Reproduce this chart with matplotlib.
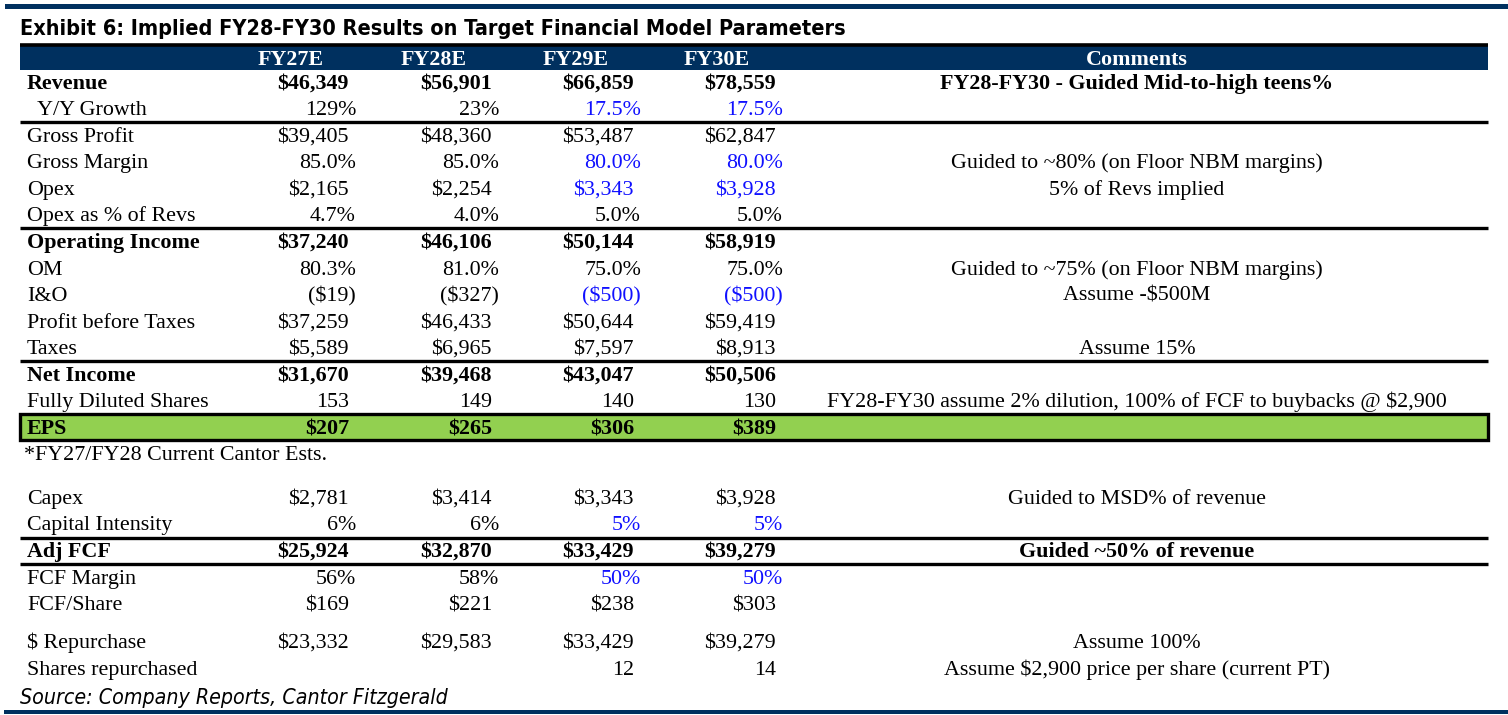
import matplotlib
matplotlib.use('Agg')
import matplotlib.pyplot as plt
from matplotlib import font_manager
from matplotlib.patches import Rectangle

# ---------------- data ----------------
title = 'Exhibit 6: Implied FY28-FY30 Results on Target Financial Model Parameters'
source = 'Source: Company Reports, Cantor Fitzgerald'
note = '*FY27/FY28 Current Cantor Ests.'
columns = ['FY27E', 'FY28E', 'FY29E', 'FY30E']

revenue = [46349, 56901, 66859, 78559]
yy_growth = [129, 23, 17.5, 17.5]
gross_profit = [39405, 48360, 53487, 62847]
gross_margin = [85.0, 85.0, 80.0, 80.0]
opex = [2165, 2254, 3343, 3928]
opex_pct = [4.7, 4.0, 5.0, 5.0]
op_income = [37240, 46106, 50144, 58919]
om = [80.3, 81.0, 75.0, 75.0]
i_and_o = [-19, -327, -500, -500]
pbt = [37259, 46433, 50644, 59419]
taxes = [5589, 6965, 7597, 8913]
net_income = [31670, 39468, 43047, 50506]
diluted_shares = [153, 149, 140, 130]
eps = [207, 265, 306, 389]
capex = [2781, 3414, 3343, 3928]
cap_intensity = [6, 6, 5, 5]
adj_fcf = [25924, 32870, 33429, 39279]
fcf_margin = [56, 58, 50, 50]
fcf_share = [169, 221, 238, 303]
repurchase = [23332, 29583, 33429, 39279]
shares_repurchased = [None, None, 12, 14]

# (label, values, format, bold, blue columns, comment, y)
rows = [
    ('Revenue', revenue, 'usd', True, [], 'FY28-FY30 - Guided Mid-to-high teens%', 82),
    ('  Y/Y Growth', yy_growth, 'pctg', False, [2, 3], '', 108),
    ('Gross Profit', gross_profit, 'usd', False, [], '', 135),
    ('Gross Margin', gross_margin, 'pct1', False, [2, 3], 'Guided to ~80% (on Floor NBM margins)', 161),
    ('Opex', opex, 'usd', False, [2, 3], '5% of Revs implied', 188),
    ('Opex as % of Revs', opex_pct, 'pct1', False, [], '', 214),
    ('Operating Income', op_income, 'usd', True, [], '', 241),
    ('OM', om, 'pct1', False, [], 'Guided to ~75% (on Floor NBM margins)', 268),
    ('I&O', i_and_o, 'usd', False, [2, 3], 'Assume -$500M', 294),
    ('Profit before Taxes', pbt, 'usd', False, [], '', 321),
    ('Taxes', taxes, 'usd', False, [], 'Assume 15%', 347),
    ('Net Income', net_income, 'usd', True, [], '', 374),
    ('Fully Diluted Shares', diluted_shares, 'num', False, [],
     'FY28-FY30 assume 2% dilution, 100% of FCF to buybacks @ $2,900', 400),
    ('EPS', eps, 'usd', True, [], '', 427),
    ('Capex', capex, 'usd', False, [], 'Guided to MSD% of revenue', 497),
    ('Capital Intensity', cap_intensity, 'pct0', False, [2, 3], '', 523),
    ('Adj FCF', adj_fcf, 'usd', True, [], 'Guided ~50% of revenue', 550),
    ('FCF Margin', fcf_margin, 'pct0', False, [2, 3], '', 577),
    ('FCF/Share', fcf_share, 'usd', False, [], '', 603),
    ('$ Repurchase', repurchase, 'usd', False, [], 'Assume 100%', 641),
    ('Shares repurchased', shares_repurchased, 'num', False, [],
     'Assume $2,900 price per share (current PT)', 668),
]

# ---------------- style ----------------
NAVY = '#00305f'
GREEN = '#92d050'
BLUE = '#1010ff'
names = {f.name for f in font_manager.fontManager.ttflist}
SERIF = 'Liberation Serif'
SANS = 'Liberation Sans Narrow' if 'Liberation Sans Narrow' in names else 'DejaVu Sans'
SANS_STRETCH = 'normal' if SANS == 'Liberation Sans Narrow' else 'condensed'
FS = 15.8
BASE = 7   # baseline offset below row centre (px)

col_right = [356, 499, 641, 783]   # right edge of % values
col_head = [291, 434, 576, 717]
comment_x = 1137
label_x = 27
left, right = 20, 1488


def fmt(v, kind):
    if v is None:
        return '', False
    if kind == 'usd':
        if v < 0:
            return '(${:,.0f})'.format(-v), False
        return '${:,.0f}'.format(v), True
    if kind == 'num':
        return '{:,.0f}'.format(v), True
    if kind == 'pct1':
        return '{:.1f}%'.format(v), False
    if kind == 'pct0':
        return '{:.0f}%'.format(v), False
    return '{:g}%'.format(v), False


fig = plt.figure(figsize=(15.08, 7.15), dpi=100)
ax = fig.add_axes([0, 0, 1, 1])
ax.set_xlim(0, 1508)
ax.set_ylim(715, 0)
ax.axis('off')

# top / bottom blue rules
ax.add_patch(Rectangle((5, 4), 1503, 5, color=NAVY, lw=0))
ax.add_patch(Rectangle((4, 710), 1504, 4, color=NAVY, lw=0))

# title (fit to width)
t = ax.text(20, 35, title, fontsize=20, fontweight='bold', family=SANS,
            fontstretch=SANS_STRETCH, va='baseline', ha='left')
fig.canvas.draw()
w = t.get_window_extent().width
t.set_fontsize(20 * 828 / w)

# header band
ax.add_patch(Rectangle((left, 45), right - left, 25, color=NAVY, lw=0))
ax.plot([left, right], [44.5, 44.5], color='black', lw=2.6, solid_capstyle='butt')
for c, x in zip(columns, col_head):
    ax.text(x, 65, c, color='white', fontsize=FS, fontweight='bold', family=SERIF,
            ha='center', va='baseline')
ax.text(comment_x, 65, 'Comments', color='white', fontsize=FS, fontweight='bold',
        family=SERIF, ha='center', va='baseline')

# EPS band
ax.add_patch(Rectangle((left, 414), right - left, 26, facecolor=GREEN,
                       edgecolor='black', lw=2.4))

# separator rules
for y in [122, 228, 361, 538, 564]:
    ax.plot([left, right], [y, y], color='black', lw=2.4, solid_capstyle='butt')

# rows
for label, vals, kind, bold, blue, comment, y in rows:
    weight = 'bold' if bold else 'normal'
    ax.text(label_x, y + BASE, label, fontsize=FS, fontweight=weight, family=SERIF,
            ha='left', va='baseline')
    for i, v in enumerate(vals):
        s, pad = fmt(v, kind)
        ax.text(col_right[i] - (7 if pad else 0), y + BASE, s, fontsize=FS,
                fontweight=weight, family=SERIF, ha='right', va='baseline',
                color=BLUE if i in blue else 'black')
    if comment:
        ax.text(comment_x, y + BASE, comment, fontsize=FS, fontweight=weight,
                family=SERIF, ha='center', va='baseline')

ax.text(24, 453 + BASE, note, fontsize=FS, family=SERIF, ha='left', va='baseline')

s = ax.text(20, 704, source, fontsize=15, fontstyle='italic', family=SANS,
            fontstretch=SANS_STRETCH, ha='left', va='baseline')
fig.canvas.draw()
w = s.get_window_extent().width
s.set_fontsize(15 * 427 / w)

fig.savefig('out.png', dpi=100)
